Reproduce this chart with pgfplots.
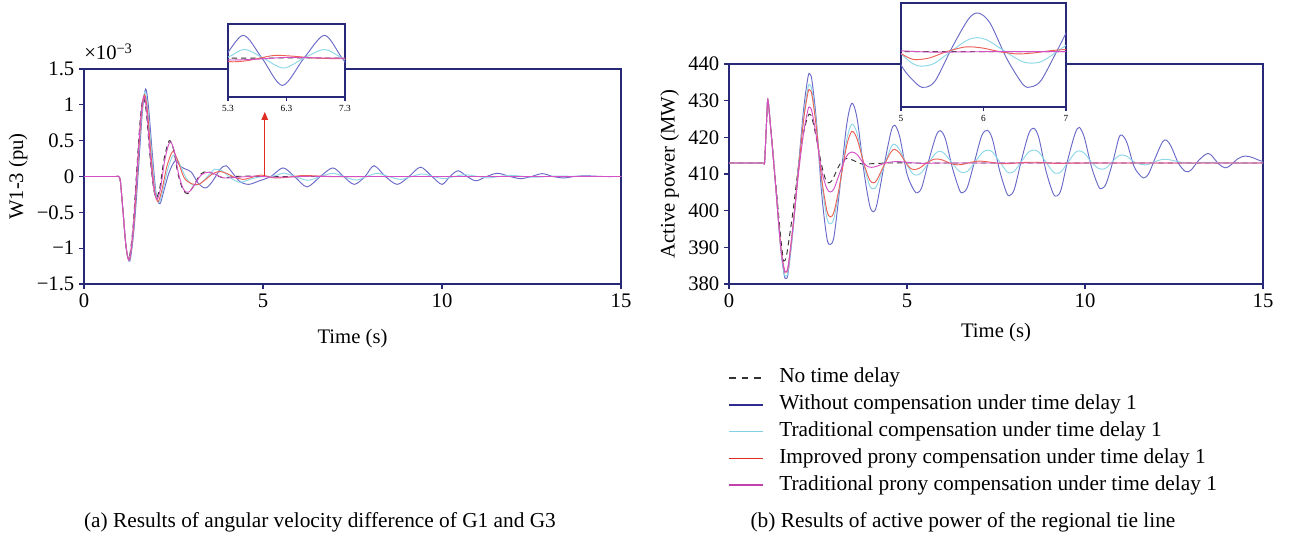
\documentclass[border=0pt]{standalone}
\usepackage{fontspec}
\setmainfont{Liberation Serif}
\usepackage{pgfplots}
\pgfplotsset{compat=1.18}
\usepackage{pgfplotstable}
\usetikzlibrary{arrows.meta}

\definecolor{axisnavy}{RGB}{40,40,120}
\definecolor{cNo}{RGB}{50,50,50}
\definecolor{cWo}{RGB}{105,105,200}
\definecolor{cTr}{RGB}{140,215,232}
\definecolor{cIm}{RGB}{238,95,85}
\definecolor{cPr}{RGB}{212,80,196}
\definecolor{kWo}{RGB}{45,45,145}
\definecolor{kTr}{RGB}{130,210,230}
\definecolor{kIm}{RGB}{222,45,35}
\definecolor{kPr}{RGB}{195,65,175}

% ---- (a) angular velocity difference, x10^-3 pu ----
\pgfplotstableread{
t v
0 0
0.5 0
0.8 0
0.9 0
0.97 0
1.02 -0.08
1.1 -0.55
1.18 -1.0
1.26 -1.14
1.37 -0.7
1.48 0.15
1.58 0.85
1.66 1.1
1.74 0.9
1.84 0.3
1.94 -0.15
2.02 -0.3
2.12 -0.15
2.24 0.25
2.38 0.5
2.5 0.38
2.62 0.05
2.76 -0.18
2.9 -0.24
3.05 -0.14
3.25 0.03
3.45 0.07
3.65 0.03
3.9 -0.02
4.2 0
4.6 0.005
5 0
6 0
8 0
15 0
}\lNo

\pgfplotstableread{
t v
0 0
0.5 0
0.8 0
0.9 0
0.97 0
1.02 -0.08
1.1 -0.55
1.18 -1.0
1.28 -1.18
1.4 -0.72
1.52 0.1
1.63 0.9
1.72 1.22
1.8 0.98
1.92 0.25
2.02 -0.26
2.12 -0.38
2.22 -0.22
2.38 0.06
2.55 0.22
2.7 0.14
2.85 0.1
3.0 0.06
3.2 -0.1
3.4 -0.16
3.6 -0.06
3.8 0.1
3.97 0.15
4.15 0.05
4.35 -0.07
4.6 -0.11
4.9 -0.06
5.22 0
5.56 0.12
5.88 0
6.23 -0.145
6.6 0
6.95 0.12
7.25 0
7.55 -0.11
7.85 0
8.1 0.15
8.42 0
8.75 -0.11
9.08 0
9.4 0.13
9.72 0
10.0 -0.11
10.22 0
10.45 0.08
10.7 0
10.95 -0.06
11.25 0
11.55 0.045
11.9 0
12.2 -0.03
12.5 0
12.8 0.04
13.1 0
13.4 -0.02
13.7 0
14.0 0.01
14.5 0
15 0
}\lWo

\pgfplotstableread{
t v
0 0
0.5 0
0.8 0
0.9 0
0.97 0
1.02 -0.08
1.1 -0.55
1.18 -1.0
1.27 -1.17
1.39 -0.7
1.5 0.12
1.61 0.85
1.7 1.18
1.78 0.95
1.9 0.25
2.0 -0.22
2.1 -0.36
2.2 -0.2
2.35 0.12
2.5 0.3
2.65 0.2
2.85 -0.02
3.05 -0.12
3.25 -0.1
3.45 0
3.65 0.1
3.85 0.08
4.1 -0.02
4.35 -0.08
4.7 -0.03
5.0 0
5.3 0.005
5.58 0.046
5.9 0
6.25 -0.053
6.6 0
6.95 0.045
7.25 0
7.6 -0.05
7.9 0
8.2 0.045
8.5 0
8.85 -0.04
9.15 0
9.45 0.035
9.75 0
10.05 -0.03
10.35 0
10.65 0.025
11.0 0
11.3 -0.02
11.6 0
11.95 0.015
12.3 0
12.6 -0.01
13.2 0.005
14 0
15 0
}\lTr

\pgfplotstableread{
t v
0 0
0.5 0
0.8 0
0.9 0
0.97 0
1.02 -0.08
1.1 -0.55
1.18 -1.0
1.27 -1.16
1.39 -0.68
1.5 0.15
1.6 0.85
1.69 1.14
1.77 0.92
1.88 0.25
1.98 -0.22
2.07 -0.35
2.18 -0.18
2.32 0.15
2.48 0.35
2.62 0.22
2.8 -0.02
3.0 -0.1
3.2 -0.11
3.4 -0.04
3.6 0.04
3.8 0.07
4.0 0.04
4.2 -0.01
4.45 -0.04
4.7 -0.01
4.95 0.02
5.3 -0.018
5.6 -0.015
5.85 0
6.1 0.014
6.4 0.01
6.8 0
7.3 -0.004
8 0
9 0
15 0
}\lIm

\pgfplotstableread{
t v
0 0
0.5 0
0.8 0
0.9 0
0.97 0
1.02 -0.08
1.1 -0.55
1.18 -1.0
1.27 -1.16
1.38 -0.68
1.49 0.15
1.59 0.85
1.67 1.12
1.75 0.92
1.85 0.3
1.95 -0.17
2.04 -0.32
2.14 -0.16
2.26 0.24
2.4 0.48
2.52 0.36
2.64 0.04
2.78 -0.18
2.92 -0.22
3.07 -0.13
3.27 0.02
3.47 0.06
3.67 0.03
3.9 -0.02
4.3 -0.01
4.8 0.005
5.3 -0.01
5.8 -0.006
6.3 0.003
7 0
8 0
15 0
}\lPr

% ---- (b) tie-line active power, MW ----
\pgfplotstableread{
t v
0 413
0.5 413
0.8 413
0.9 413
0.95 413
0.98 413
1.0 413.2
1.04 421
1.08 429.5
1.1 429.8
1.14 426
1.3 409
1.45 393
1.52 387
1.55 386.3
1.62 388
1.8 400
1.95 412
2.1 421.5
2.22 425.8
2.27 426.3
2.33 425.3
2.45 420
2.6 412.5
2.72 408.3
2.8 407.6
2.9 408.3
3.05 411.5
3.2 413.9
3.3 414.2
3.45 413.9
3.6 413.2
3.75 412.7
4.0 412.8
4.5 413
5.5 413
8 413
15 413
}\rNo

\pgfplotstableread{
t v
0 413
0.5 413
0.8 413
0.9 413
0.95 413
0.98 413
1.0 413.2
1.04 421
1.08 429.5
1.1 429.8
1.14 426
1.3 408
1.45 390
1.55 382.5
1.6 381.5
1.66 383
1.8 395
1.95 412
2.1 428
2.22 436.5
2.27 437.3
2.33 435.5
2.45 425
2.6 405
2.75 392.5
2.85 390.8
2.95 393
3.1 405
3.3 423
3.45 429.3
3.6 425
3.8 410
3.95 401.5
4.05 399.7
4.15 401.5
4.35 412
4.55 421.5
4.66 423.3
4.8 420
5.0 410
5.2 405.5
5.3 404.9
5.42 406.5
5.62 414
5.82 420.5
5.94 421.8
6.08 419.5
6.28 411.5
6.48 405.5
6.58 405
6.7 406.5
6.9 413.5
7.1 420.5
7.26 421.9
7.4 419.5
7.6 411
7.8 404.8
7.9 404.2
8.02 406
8.22 414
8.42 421
8.56 422.5
8.7 420
8.9 411
9.1 404.8
9.21 404
9.33 405.8
9.52 414
9.72 421
9.84 422.7
9.98 420
10.18 412
10.38 406.6
10.48 406.1
10.6 407.5
10.8 414
10.95 419.8
11.04 420.6
11.18 418.5
11.38 412
11.58 409.3
11.68 409
11.8 410.3
12.0 415
12.18 418.8
12.29 419.2
12.42 417.5
12.62 413
12.8 410.8
12.89 410.6
13.0 411.3
13.2 413.8
13.38 415.3
13.45 415.6
13.55 415.1
13.75 412.8
13.92 411.7
14.05 412.1
14.3 414.2
14.5 414.9
14.7 414.5
14.9 413.7
15 413.4
}\rWo

\pgfplotstableread{
t v
0 413
0.5 413
0.8 413
0.9 413
0.95 413
0.98 413
1.0 413.2
1.04 421
1.08 429.5
1.1 429.8
1.14 426
1.3 408
1.45 390
1.55 383
1.6 382.2
1.66 383.5
1.8 395
1.95 411
2.1 426
2.22 433.6
2.27 434.3
2.33 432.8
2.45 424
2.6 408
2.75 398
2.85 396.4
2.95 398
3.1 406
3.3 419
3.45 423.6
3.6 421
3.8 412
3.95 406.8
4.05 406
4.15 406.8
4.35 412
4.55 417.3
4.66 418.1
4.8 416.5
5.0 412.5
5.15 410.2
5.25 409.7
5.4 410.3
5.6 413
5.8 415.6
5.92 416.2
6.05 415.6
6.25 413.2
6.45 410.9
6.58 410.4
6.72 410.9
6.92 413.4
7.12 415.9
7.26 416.5
7.4 416
7.6 413.4
7.8 410.7
7.9 410.3
8.02 410.8
8.22 413.5
8.42 416
8.56 416.5
8.7 416
8.9 413.3
9.1 410.6
9.21 410.2
9.33 410.6
9.52 413.2
9.72 415.8
9.84 416.3
9.98 415.7
10.18 413.2
10.38 411.5
10.48 411.3
10.6 411.7
10.8 413.7
10.95 415
11.04 415.2
11.18 414.8
11.38 413.3
11.58 412.6
11.68 412.5
11.8 412.7
12.0 413.5
12.18 414
12.29 414
12.42 413.8
12.7 413.2
13.0 412.9
13.4 413.2
14 413
15 413
}\rTr

\pgfplotstableread{
t v
0 413
0.5 413
0.8 413
0.9 413
0.95 413
0.98 413
1.0 413.2
1.04 421
1.08 429.5
1.1 429.8
1.14 426
1.3 408
1.45 390.5
1.55 384
1.59 383.2
1.66 384.5
1.8 396
1.95 411
2.1 425
2.22 432.3
2.27 432.9
2.33 431.5
2.45 423
2.6 409
2.75 400
2.85 398.3
2.95 399.7
3.1 406.5
3.3 417.5
3.45 421.6
3.6 419.5
3.8 412.5
3.95 408.4
4.05 407.6
4.15 408.3
4.35 412.3
4.55 416
4.66 416.7
4.8 415.6
5.0 412.6
5.12 411.4
5.2 411.2
5.35 411.6
5.55 413
5.75 414
5.85 414.1
6.0 413.8
6.2 413
6.4 412.5
6.6 412.7
6.8 413.2
7.0 413.5
7.2 413.4
7.5 413
7.8 412.8
8.2 413.1
8.6 413.2
9.2 412.9
10 413
11 413
15 413
}\rIm

\pgfplotstableread{
t v
0 413
0.5 413
0.8 413
0.9 413
0.95 413
0.98 413
1.0 413.2
1.04 421
1.08 429.5
1.1 429.8
1.14 426
1.3 408
1.45 390.5
1.55 384
1.59 383.4
1.66 384.8
1.8 396
1.95 410
2.1 421.5
2.22 427.6
2.27 428.2
2.33 427
2.45 420.5
2.6 411
2.75 406
2.85 405.1
2.95 406
3.1 410
3.3 414.8
3.45 416
3.6 415.3
3.75 413.3
3.9 412
4.0 411.8
4.15 412.1
4.4 413
4.7 413.4
5.0 413.2
5.4 412.9
6 413
7 413
15 413
}\rPr

\newcommand\bigfont{\fontsize{15.5}{18.6}\selectfont}
\newcommand\legfont{\fontsize{16}{19}\selectfont}
\newcommand\tinyfont{\fontsize{7}{8}\selectfont}

\pgfplotsset{
  panel/.style={
    scale only axis, anchor=south west,
    axis line style={axisnavy, line width=1pt},
    tick style={axisnavy, line width=0.8pt},
    major tick length=3.75pt,
    tick align=outside, tick pos=left,
    xmin=0, xmax=15, xtick={0,5,10,15}, xticklabels={0,5,10,15},
    tick label style={font=\bigfont},
    label style={font=\bigfont},
    xlabel={Time (s)},
    clip mode=individual,
  },
  inset/.style={
    scale only axis, anchor=south west,
    axis background/.style={fill=white},
    axis line style={axisnavy, line width=1pt},
    tick style={axisnavy, line width=0.8pt},
    major tick length=3pt,
    tick align=outside, tick pos=left,
    ytick=\empty,
    tick label style={font=\tinyfont},
  },
  sNo/.style={cNo, dash pattern=on 4pt off 3pt, line width=0.7pt, smooth},
  sWo/.style={cWo, line width=0.7pt, smooth},
  sTr/.style={cTr, line width=0.7pt, smooth},
  sIm/.style={cIm, line width=0.7pt, smooth},
  sPr/.style={cPr, line width=0.7pt, smooth},
}

\begin{document}
\begin{tikzpicture}[font=\bigfont]
\useasboundingbox (0,0) rectangle (967.5pt,403.5pt);

% (a) main
\begin{axis}[panel, at={(63pt,190.5pt)}, width=402.75pt, height=161.25pt,
  ymin=-1.5, ymax=1.5, ytick={-1.5,-1,-0.5,0,0.5,1,1.5},
  yticklabels={−1.5,−1,−0.5,0,0.5,1,1.5},
  ylabel={W1-3 (pu)}, xlabel style={yshift=-9pt}]
\addplot[sNo] table[x=t,y=v] {\lNo};
\addplot[sWo] table[x=t,y=v] {\lWo};
\addplot[sTr] table[x=t,y=v] {\lTr};
\addplot[sIm] table[x=t,y=v] {\lIm};
\addplot[sPr] table[x=t,y=v] {\lPr};
\draw[kIm, line width=0.6pt, -{Triangle[length=6pt,width=5pt]}] (axis cs:5.05,0.01) -- (axis cs:5.05,0.9);
\node[anchor=base west, inner sep=0pt] at (rel axis cs:0,1) [yshift=6.75pt] {×10\textsuperscript{−3}};
\end{axis}

% (a) inset
\begin{axis}[inset, at={(171pt,330.75pt)}, width=87.75pt, height=54.75pt,
  xmin=5.3, xmax=7.3, ymin=-0.206, ymax=0.18,
  xtick={5.3,6.3,7.3}, xticklabels={5.3,6.3,7.3}]
\addplot[sNo] table[x=t,y=v] {\lNo};
\addplot[sWo] table[x=t,y=v] {\lWo};
\addplot[sTr] table[x=t,y=v] {\lTr};
\addplot[sIm] table[x=t,y=v] {\lIm};
\addplot[sPr] table[x=t,y=v] {\lPr};
\end{axis}

% (b) main
\begin{axis}[panel, at={(546.75pt,190.5pt)}, width=400.5pt, height=165pt,
  ymin=380, ymax=440, ytick={380,390,...,440},
  yticklabels={380,390,400,410,420,430,440},
  ylabel={Active power (MW)}, xlabel style={yshift=-5pt},
  legend cell align=left,
  legend image code/.code={\draw[#1] (0pt,0pt) -- (25.5pt,0pt); \path (37pt,0pt);},
  legend style={at={(-0.002,-0.382)}, anchor=north west, draw=none, fill=none,
    inner sep=0pt, font=\legfont, row sep=5.6pt,
    nodes={inner sep=0pt, text height=11pt, text depth=3.5pt}}]
\addlegendimage{cNo, line width=0.9pt, dash pattern=on 5pt off 4.5pt}
\addlegendentry{No time delay}
\addlegendimage{kWo, line width=1.3pt}
\addlegendentry{Without compensation under time delay 1}
\addlegendimage{kTr, line width=1.3pt}
\addlegendentry{Traditional compensation under time delay 1}
\addlegendimage{kIm, line width=1.3pt}
\addlegendentry{Improved prony compensation under time delay 1}
\addlegendimage{kPr, line width=1.3pt}
\addlegendentry{Traditional prony compensation under time delay 1}
\addplot[sNo, forget plot] table[x=t,y=v] {\rNo};
\addplot[sWo, forget plot] table[x=t,y=v] {\rWo};
\addplot[sTr, forget plot] table[x=t,y=v] {\rTr};
\addplot[sIm, forget plot] table[x=t,y=v] {\rIm};
\addplot[sPr, forget plot] table[x=t,y=v] {\rPr};
\end{axis}

% (b) inset
\begin{axis}[inset, at={(675.75pt,323.25pt)}, width=123.75pt, height=78pt,
  xmin=5, xmax=7, ymin=400.4, ymax=424.1,
  xtick={5,6,7}, xticklabels={5,6,7}]
\addplot[sNo] table[x=t,y=v] {\rNo};
\addplot[sWo] table[x=t,y=v] {\rWo};
\addplot[sTr] table[x=t,y=v] {\rTr};
\addplot[sIm] table[x=t,y=v] {\rIm};
\addplot[sPr] table[x=t,y=v] {\rPr};
\end{axis}

\node[anchor=base, font=\legfont] at (240pt,8pt) {(a) Results of angular velocity difference of G1 and G3};
\node[anchor=base, font=\legfont] at (722.25pt,8pt) {(b) Results of active power of the regional tie line};
\end{tikzpicture}
\end{document}
